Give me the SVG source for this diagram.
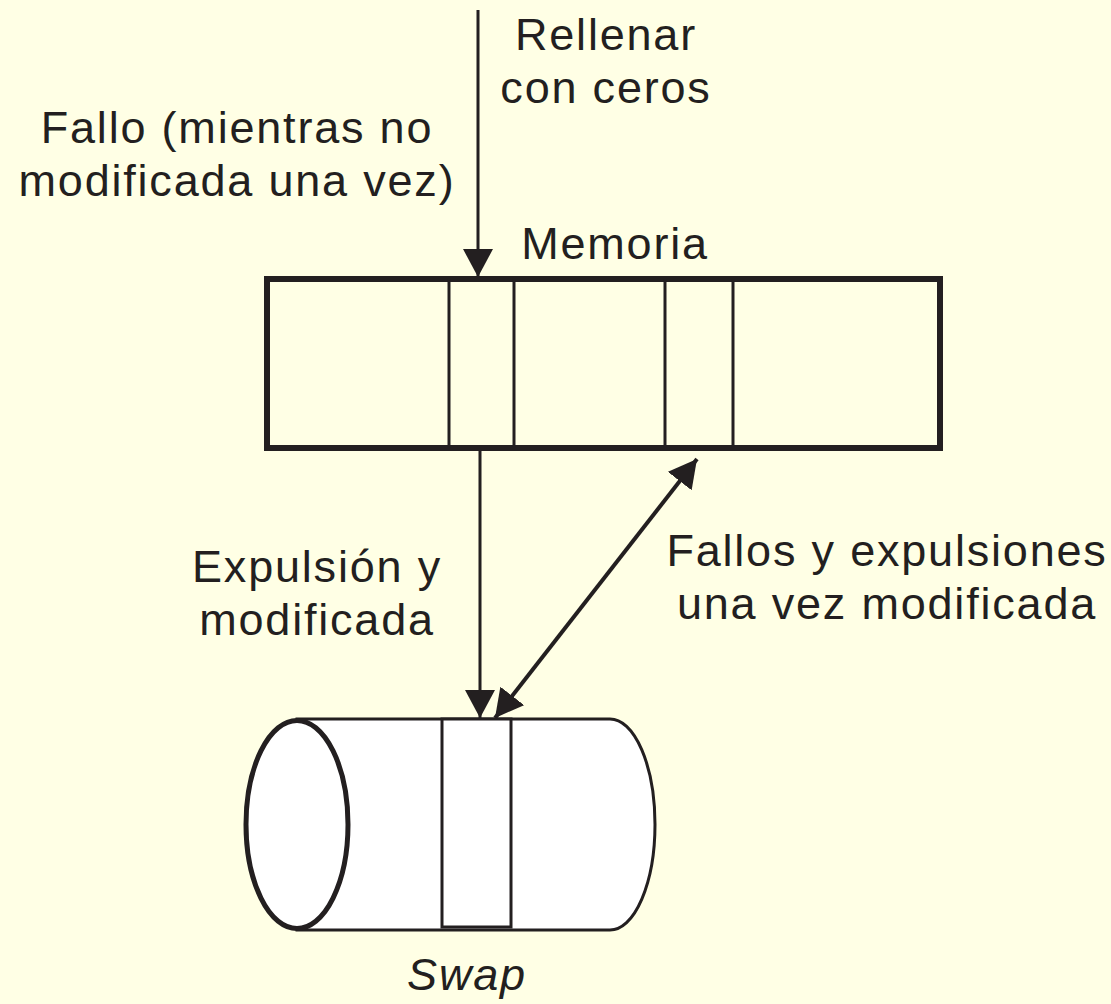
<svg xmlns="http://www.w3.org/2000/svg" width="1111" height="1004" viewBox="0 0 1111 1004">
<style>
.t{font-family:"Liberation Sans",Arial,sans-serif;font-size:45px;letter-spacing:1.8px;fill:#231f20;text-anchor:middle}
.ln{stroke:#231f20;fill:none}
</style>
<defs>
<marker id="ah" markerWidth="28" markerHeight="30" refX="28" refY="15" orient="auto-start-reverse" markerUnits="userSpaceOnUse" viewBox="0 0 28 30">
<path d="M0,0 L28,15 L0,30 Z" fill="#231f20"/>
</marker>
</defs>
<rect width="1111" height="1004" fill="#ffffe5"/>
<g id="memoria">
<rect x="267" y="279" width="673" height="169" fill="#ffffe5" stroke="#231f20" stroke-width="6"/>
<line class="ln" x1="449" y1="279" x2="449" y2="448" stroke-width="3"/>
<line class="ln" x1="514" y1="279" x2="514" y2="448" stroke-width="3"/>
<line class="ln" x1="665" y1="279" x2="665" y2="448" stroke-width="3"/>
<line class="ln" x1="733" y1="279" x2="733" y2="448" stroke-width="3"/>
<text class="t" x="615" y="259">Memoria</text>
</g>
<g id="swap">
<path d="M297,719 L610,719 A45,105.5 0 0 1 610,930 L297,930 Z" fill="#ffffff" stroke="#231f20" stroke-width="3"/>
<rect x="442" y="719" width="69" height="208" fill="#ffffff" stroke="#231f20" stroke-width="3"/>
<ellipse cx="297" cy="824.5" rx="51" ry="104" fill="#ffffff" stroke="#231f20" stroke-width="5"/>
<text class="t" x="467" y="990" font-style="italic">Swap</text>
</g>
<g id="connectors">
<line class="ln" x1="478" y1="10" x2="478" y2="277" stroke-width="3" marker-end="url(#ah)"/>
<line class="ln" x1="480" y1="450" x2="480" y2="718" stroke-width="3" marker-end="url(#ah)"/>
<line class="ln" x1="697" y1="459" x2="495" y2="718" stroke-width="4" marker-start="url(#ah)" marker-end="url(#ah)"/>
</g>
<g id="labels">
<text class="t" x="606" y="50">Rellenar</text>
<text class="t" x="606" y="103">con ceros</text>
<text class="t" x="237" y="143">Fallo (mientras no</text>
<text class="t" x="237" y="196">modificada una vez)</text>
<text class="t" x="317" y="582">Expulsión y</text>
<text class="t" x="317" y="635">modificada</text>
<text class="t" x="887" y="566">Fallos y expulsiones</text>
<text class="t" x="887" y="619">una vez modificada</text>
</g>
</svg>
